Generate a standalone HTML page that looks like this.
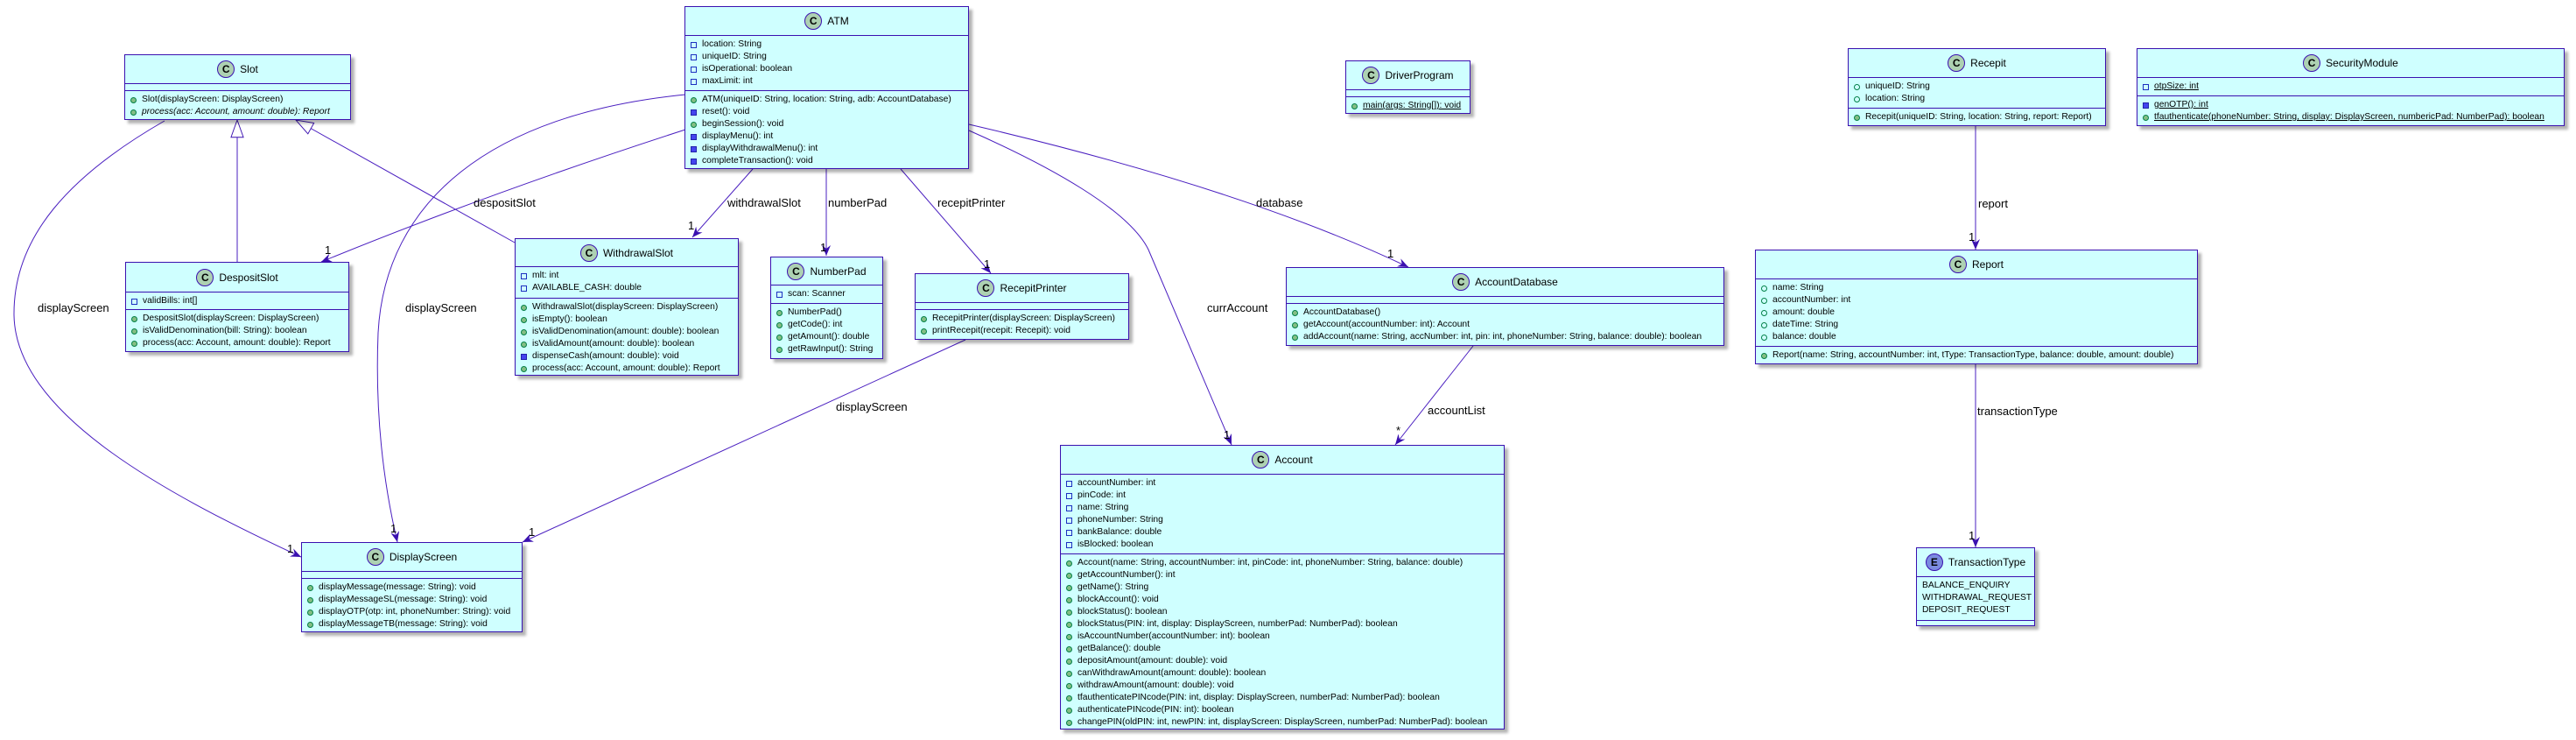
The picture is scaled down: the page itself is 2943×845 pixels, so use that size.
<!DOCTYPE html>
<html><head><meta charset="utf-8"><style>
body{margin:0;width:2943px;height:845px;background:#fff;position:relative;overflow:hidden;font-family:"Liberation Sans",sans-serif}
svg{position:absolute;left:0;top:0}
.b{position:absolute;background:#cfffff;border:1.5px solid #3a10b0;box-shadow:4px 4px 3px rgba(0,0,0,.3);box-sizing:border-box;font:10.3px "Liberation Sans",sans-serif;color:#000;overflow:hidden}
.h{display:flex;align-items:center;justify-content:center;gap:6px;font-size:12px;box-sizing:border-box}
.ci{width:20px;height:20px;border-radius:50%;background:#add1b2;border:1px solid #3a10b0;box-sizing:border-box;display:flex;align-items:center;justify-content:center;font-weight:bold;font-size:12px}
.ei{background:#7b8be0}
.s{border-top:1.5px solid #3a10b0;box-sizing:border-box;padding-top:3px}
.r{height:14px;line-height:14px;position:relative;padding-left:19px;white-space:nowrap}
.v{padding-left:6px}
.r::before{content:"";position:absolute;left:6px;top:4px;width:7px;height:7px;box-sizing:border-box}
.v::before{display:none}
.pf::before{border:1px solid #1c2fc0}
.pm::before{background:#4444ee;border:1px solid #2222aa}
.um::before{background:#84be84;border:1px solid #038048;border-radius:50%}
.uf::before{border:1px solid #038048;border-radius:50%}
.u{text-decoration:underline}
.l{position:absolute;font:13px "Liberation Sans",sans-serif;white-space:nowrap;line-height:14px}
</style></head><body>
<svg width="2943" height="845">
<defs>
<marker id="a" markerUnits="userSpaceOnUse" markerWidth="12" markerHeight="10" viewBox="0 0 12 10" refX="12" refY="5" orient="auto"><path d="M0,0 L12,5 L0,10 L4,5 Z" fill="#3a10b0"/></marker>
<marker id="t" markerUnits="userSpaceOnUse" markerWidth="22" markerHeight="16" viewBox="-1 -1 23 17" refX="21" refY="7.5" orient="auto"><path d="M0,0 L21,7.5 L0,15 Z" fill="#fff" stroke="#3a10b0" stroke-width="1"/></marker>
</defs>
<g fill="none" stroke="#4a1fc0" stroke-width="1">
<path d="M188,138 C80,200 15,270 16,360 C18,470 180,560 344,636" marker-end="url(#a)"/>
<path d="M783,108 C560,130 440,230 432,380 C428,480 440,560 454,619" marker-end="url(#a)"/>
<path d="M783,148 Q560,220 367,299" marker-end="url(#a)"/>
<path d="M588,277 L338,137" marker-end="url(#t)"/>
<path d="M271,299 L271,137" marker-end="url(#t)"/>
<path d="M860,193 L791,271" marker-end="url(#a)"/>
<path d="M944,193 L944,292" marker-end="url(#a)"/>
<path d="M1029,193 L1132,312" marker-end="url(#a)"/>
<path d="M1107,142 Q1420,215 1609,305" marker-end="url(#a)"/>
<path d="M1107,149 C1200,190 1290,240 1312,285 L1407,508" marker-end="url(#a)"/>
<path d="M1683,395 L1594,508" marker-end="url(#a)"/>
<path d="M1103,388 L597,619" marker-end="url(#a)"/>
<path d="M2257,144 L2257,285" marker-end="url(#a)"/>
<path d="M2257,416 L2257,625" marker-end="url(#a)"/>
</g>
</svg>

<div class="l" style="left:43px;top:345px">displayScreen</div>
<div class="l" style="left:463px;top:345px">displayScreen</div>
<div class="l" style="left:541px;top:225px">despositSlot</div>
<div class="l" style="left:831px;top:225px">withdrawalSlot</div>
<div class="l" style="left:946px;top:225px">numberPad</div>
<div class="l" style="left:1071px;top:225px">recepitPrinter</div>
<div class="l" style="left:1435px;top:225px">database</div>
<div class="l" style="left:1379px;top:345px">currAccount</div>
<div class="l" style="left:1631px;top:462px">accountList</div>
<div class="l" style="left:955px;top:458px">displayScreen</div>
<div class="l" style="left:2260px;top:226px">report</div>
<div class="l" style="left:2259px;top:463px">transactionType</div>
<div class="l" style="left:371px;top:279px">1</div>
<div class="l" style="left:786px;top:251px">1</div>
<div class="l" style="left:937px;top:276px">1</div>
<div class="l" style="left:1124px;top:295px">1</div>
<div class="l" style="left:1585px;top:283px">1</div>
<div class="l" style="left:1398px;top:490px">1</div>
<div class="l" style="left:1595px;top:485px">*</div>
<div class="l" style="left:328px;top:620px">1</div>
<div class="l" style="left:446px;top:597px">1</div>
<div class="l" style="left:604px;top:601px">1</div>
<div class="l" style="left:2249px;top:264px">1</div>
<div class="l" style="left:2249px;top:605px">1</div>

<div class="b" style="left:142px;top:62px;width:259px;height:75px">
<div class="h" style="height:32px"><div class="ci">C</div>Slot</div>
<div class="s" style="height:8px"></div>
<div class="s"><div class="r um">Slot(displayScreen: DisplayScreen)</div><div class="r um"><i>process(acc: Account, amount: double): Report</i></div></div>
</div>

<div class="b" style="left:143px;top:299px;width:256px;height:103px">
<div class="h" style="height:33px"><div class="ci">C</div>DespositSlot</div>
<div class="s" style="height:20px"><div class="r pf">validBills: int[]</div></div>
<div class="s"><div class="r um">DespositSlot(displayScreen: DisplayScreen)</div><div class="r um">isValidDenomination(bill: String): boolean</div><div class="r um">process(acc: Account, amount: double): Report</div></div>
</div>

<div class="b" style="left:588px;top:272px;width:256px;height:157px">
<div class="h" style="height:31px"><div class="ci">C</div>WithdrawalSlot</div>
<div class="s" style="height:36px"><div class="r pf">mlt: int</div><div class="r pf">AVAILABLE_CASH: double</div></div>
<div class="s"><div class="r um">WithdrawalSlot(displayScreen: DisplayScreen)</div><div class="r um">isEmpty(): boolean</div><div class="r um">isValidDenomination(amount: double): boolean</div><div class="r um">isValidAmount(amount: double): boolean</div><div class="r pm">dispenseCash(amount: double): void</div><div class="r um">process(acc: Account, amount: double): Report</div></div>
</div>

<div class="b" style="left:782px;top:7px;width:325px;height:186px">
<div class="h" style="height:32px"><div class="ci">C</div>ATM</div>
<div class="s" style="height:63px"><div class="r pf">location: String</div><div class="r pf">uniqueID: String</div><div class="r pf">isOperational: boolean</div><div class="r pf">maxLimit: int</div></div>
<div class="s"><div class="r um">ATM(uniqueID: String, location: String, adb: AccountDatabase)</div><div class="r pm">reset(): void</div><div class="r um">beginSession(): void</div><div class="r pm">displayMenu(): int</div><div class="r pm">displayWithdrawalMenu(): int</div><div class="r pm">completeTransaction(): void</div></div>
</div>

<div class="b" style="left:1537px;top:69px;width:143px;height:61px">
<div class="h" style="height:32px"><div class="ci">C</div>DriverProgram</div>
<div class="s" style="height:8px"></div>
<div class="s"><div class="r um"><span class="u">main(args: String[]): void</span></div></div>
</div>

<div class="b" style="left:880px;top:293px;width:129px;height:117px">
<div class="h" style="height:31px"><div class="ci">C</div>NumberPad</div>
<div class="s" style="height:21px"><div class="r pf">scan: Scanner</div></div>
<div class="s"><div class="r um">NumberPad()</div><div class="r um">getCode(): int</div><div class="r um">getAmount(): double</div><div class="r um">getRawInput(): String</div></div>
</div>

<div class="b" style="left:1045px;top:312px;width:245px;height:76px">
<div class="h" style="height:32px"><div class="ci">C</div>RecepitPrinter</div>
<div class="s" style="height:8px"></div>
<div class="s"><div class="r um">RecepitPrinter(displayScreen: DisplayScreen)</div><div class="r um">printRecepit(recepit: Recepit): void</div></div>
</div>

<div class="b" style="left:1469px;top:305px;width:501px;height:90px">
<div class="h" style="height:32px"><div class="ci">C</div>AccountDatabase</div>
<div class="s" style="height:8px"></div>
<div class="s"><div class="r um">AccountDatabase()</div><div class="r um">getAccount(accountNumber: int): Account</div><div class="r um">addAccount(name: String, accNumber: int, pin: int, phoneNumber: String, balance: double): boolean</div></div>
</div>

<div class="b" style="left:1211px;top:508px;width:508px;height:325px">
<div class="h" style="height:32px"><div class="ci">C</div>Account</div>
<div class="s" style="height:91px"><div class="r pf">accountNumber: int</div><div class="r pf">pinCode: int</div><div class="r pf">name: String</div><div class="r pf">phoneNumber: String</div><div class="r pf">bankBalance: double</div><div class="r pf">isBlocked: boolean</div></div>
<div class="s"><div class="r um">Account(name: String, accountNumber: int, pinCode: int, phoneNumber: String, balance: double)</div><div class="r um">getAccountNumber(): int</div><div class="r um">getName(): String</div><div class="r um">blockAccount(): void</div><div class="r um">blockStatus(): boolean</div><div class="r um">blockStatus(PIN: int, display: DisplayScreen, numberPad: NumberPad): boolean</div><div class="r um">isAccountNumber(accountNumber: int): boolean</div><div class="r um">getBalance(): double</div><div class="r um">depositAmount(amount: double): void</div><div class="r um">canWithdrawAmount(amount: double): boolean</div><div class="r um">withdrawAmount(amount: double): void</div><div class="r um">tfauthenticatePINcode(PIN: int, display: DisplayScreen, numberPad: NumberPad): boolean</div><div class="r um">authenticatePINcode(PIN: int): boolean</div><div class="r um">changePIN(oldPIN: int, newPIN: int, displayScreen: DisplayScreen, numberPad: NumberPad): boolean</div></div>
</div>

<div class="b" style="left:344px;top:619px;width:253px;height:103px">
<div class="h" style="height:32px"><div class="ci">C</div>DisplayScreen</div>
<div class="s" style="height:8px"></div>
<div class="s"><div class="r um">displayMessage(message: String): void</div><div class="r um">displayMessageSL(message: String): void</div><div class="r um">displayOTP(otp: int, phoneNumber: String): void</div><div class="r um">displayMessageTB(message: String): void</div></div>
</div>

<div class="b" style="left:2111px;top:55px;width:295px;height:89px">
<div class="h" style="height:32px"><div class="ci">C</div>Recepit</div>
<div class="s" style="height:35px"><div class="r uf">uniqueID: String</div><div class="r uf">location: String</div></div>
<div class="s"><div class="r um">Recepit(uniqueID: String, location: String, report: Report)</div></div>
</div>

<div class="b" style="left:2441px;top:55px;width:489px;height:89px">
<div class="h" style="height:32px"><div class="ci">C</div>SecurityModule</div>
<div class="s" style="height:21px"><div class="r pf"><span class="u">otpSize: int</span></div></div>
<div class="s"><div class="r pm"><span class="u">genOTP(): int</span></div><div class="r um"><span class="u">tfauthenticate(phoneNumber: String, display: DisplayScreen, numbericPad: NumberPad): boolean</span></div></div>
</div>

<div class="b" style="left:2005px;top:285px;width:506px;height:131px">
<div class="h" style="height:32px"><div class="ci">C</div>Report</div>
<div class="s" style="height:77px"><div class="r uf">name: String</div><div class="r uf">accountNumber: int</div><div class="r uf">amount: double</div><div class="r uf">dateTime: String</div><div class="r uf">balance: double</div></div>
<div class="s"><div class="r um">Report(name: String, accountNumber: int, tType: TransactionType, balance: double, amount: double)</div></div>
</div>

<div class="b" style="left:2189px;top:625px;width:136px;height:90px">
<div class="h" style="height:32px"><div class="ci ei">E</div>TransactionType</div>
<div class="s" style="height:50px"><div class="r v">BALANCE_ENQUIRY</div><div class="r v">WITHDRAWAL_REQUEST</div><div class="r v">DEPOSIT_REQUEST</div></div>
<div class="s"></div>
</div>
</body></html>
